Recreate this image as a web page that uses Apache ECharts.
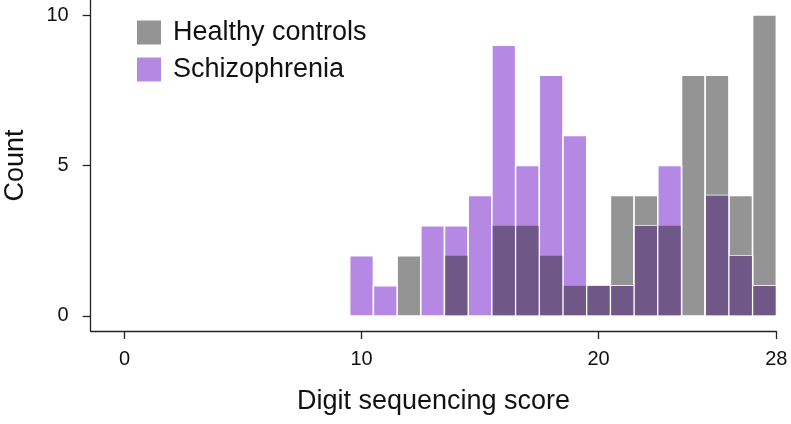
<!DOCTYPE html>
<html>
<head>
<meta charset="utf-8">
<script src="https://cdn.jsdelivr.net/npm/echarts@6/dist/echarts.min.js"></script>
<style>
  html, body { margin: 0; padding: 0; background: #fff; }
  #chart { width: 791px; height: 424px; }
</style>
</head>
<body>
<div id="chart"></div>
<script>
// histogram bins (score) and counts per group
const scores = [10, 11, 12, 13, 14, 15, 16, 17, 18, 19, 20, 21, 22, 23, 24, 25, 26, 27];
const healthy = [0, 0, 2, 0, 2, 0, 3, 3, 2, 1, 1, 4, 4, 3, 8, 8, 4, 10];
const schizophrenia = [2, 1, 0, 3, 3, 4, 9, 5, 8, 6, 1, 1, 3, 5, 0, 4, 2, 1];
const xTickValues = [0, 10, 20, 27.5];
const xTickLabels = ["0", "10", "20", "28"];
const yTickValues = [0, 5, 10];

const font = "'Liberation Sans', Arial, sans-serif";
const gray = "#949494";
const purple = "#b589e3";
const dark = "#6f5887";

function barRender(color, inset) {
  return function (params, api) {
    let x = api.value(0), v = api.value(1);
    if (!v) return;
    let p0 = api.coord([x - 0.5, 0]);
    let p1 = api.coord([x + 0.5, v]);
    if (inset) {
      return {
        type: "rect",
        shape: { x: p0[0] + 0.75, y: p1[1], width: p1[0] - p0[0] - 1.5, height: p0[1] - p1[1] - 0.75 },
        style: { fill: color }
      };
    }
    return {
      type: "rect",
      shape: { x: p0[0], y: p1[1], width: p1[0] - p0[0], height: p0[1] - p1[1] },
      style: { fill: color, stroke: "#fff", lineWidth: 1.5 }
    };
  };
}

let chart = echarts.init(document.getElementById("chart"));
let option = {
  animation: false,
  textStyle: { fontFamily: font },
  grid: { left: 90.7, right: 14.7, top: 0, bottom: 93, outerBoundsMode: "none" },
  legend: {
    data: ["Healthy controls", "Schizophrenia"],
    orient: "vertical",
    left: 137, top: 19,
    padding: 0,
    itemWidth: 24, itemHeight: 24, itemGap: 10,
    icon: "rect",
    textStyle: { fontSize: 27, color: "#111", fontFamily: font, padding: [0, 0, 0, 7] }
  },
  xAxis: {
    type: "value",
    min: -1.43, max: 27.5,
    name: "Digit sequencing score",
    nameLocation: "middle",
    nameGap: 57,
    nameTextStyle: { fontSize: 27, color: "#111", fontFamily: font },
    axisLine: { onZero: false, lineStyle: { color: "#222", width: 1.3 } },
    axisTick: { customValues: xTickValues, length: 8, lineStyle: { color: "#222", width: 1.3 } },
    axisLabel: {
      customValues: xTickValues, margin: 18, fontSize: 20, color: "#111", fontFamily: font,
      formatter: v => xTickLabels[xTickValues.indexOf(v)]
    },
    splitLine: { show: false }
  },
  yAxis: {
    type: "value",
    min: -0.5, max: 10.5,
    name: "Count",
    nameLocation: "middle",
    nameGap: 62,
    nameTextStyle: { fontSize: 27, color: "#111", fontFamily: font },
    axisLine: { show: true, onZero: false, lineStyle: { color: "#222", width: 1.3 } },
    axisTick: { customValues: yTickValues, length: 8, lineStyle: { color: "#222", width: 1.3 } },
    axisLabel: { customValues: yTickValues, margin: 22, fontSize: 20, color: "#111", fontFamily: font },
    splitLine: { show: false }
  },
  series: [
    {
      name: "Healthy controls", type: "custom",
      itemStyle: { color: gray },
      renderItem: barRender(gray, false),
      data: scores.map((s, i) => [s, healthy[i]])
    },
    {
      name: "Schizophrenia", type: "custom",
      itemStyle: { color: purple },
      renderItem: barRender(purple, false),
      data: scores.map((s, i) => [s, schizophrenia[i]])
    },
    {
      name: "overlap", type: "custom",
      itemStyle: { color: dark },
      renderItem: barRender(dark, true),
      data: scores.map((s, i) => [s, Math.min(healthy[i], schizophrenia[i])])
    }
  ]
};
chart.setOption(option);
window.addEventListener("resize", function () {
  chart.resize();
});
</script>
</body>
</html>
